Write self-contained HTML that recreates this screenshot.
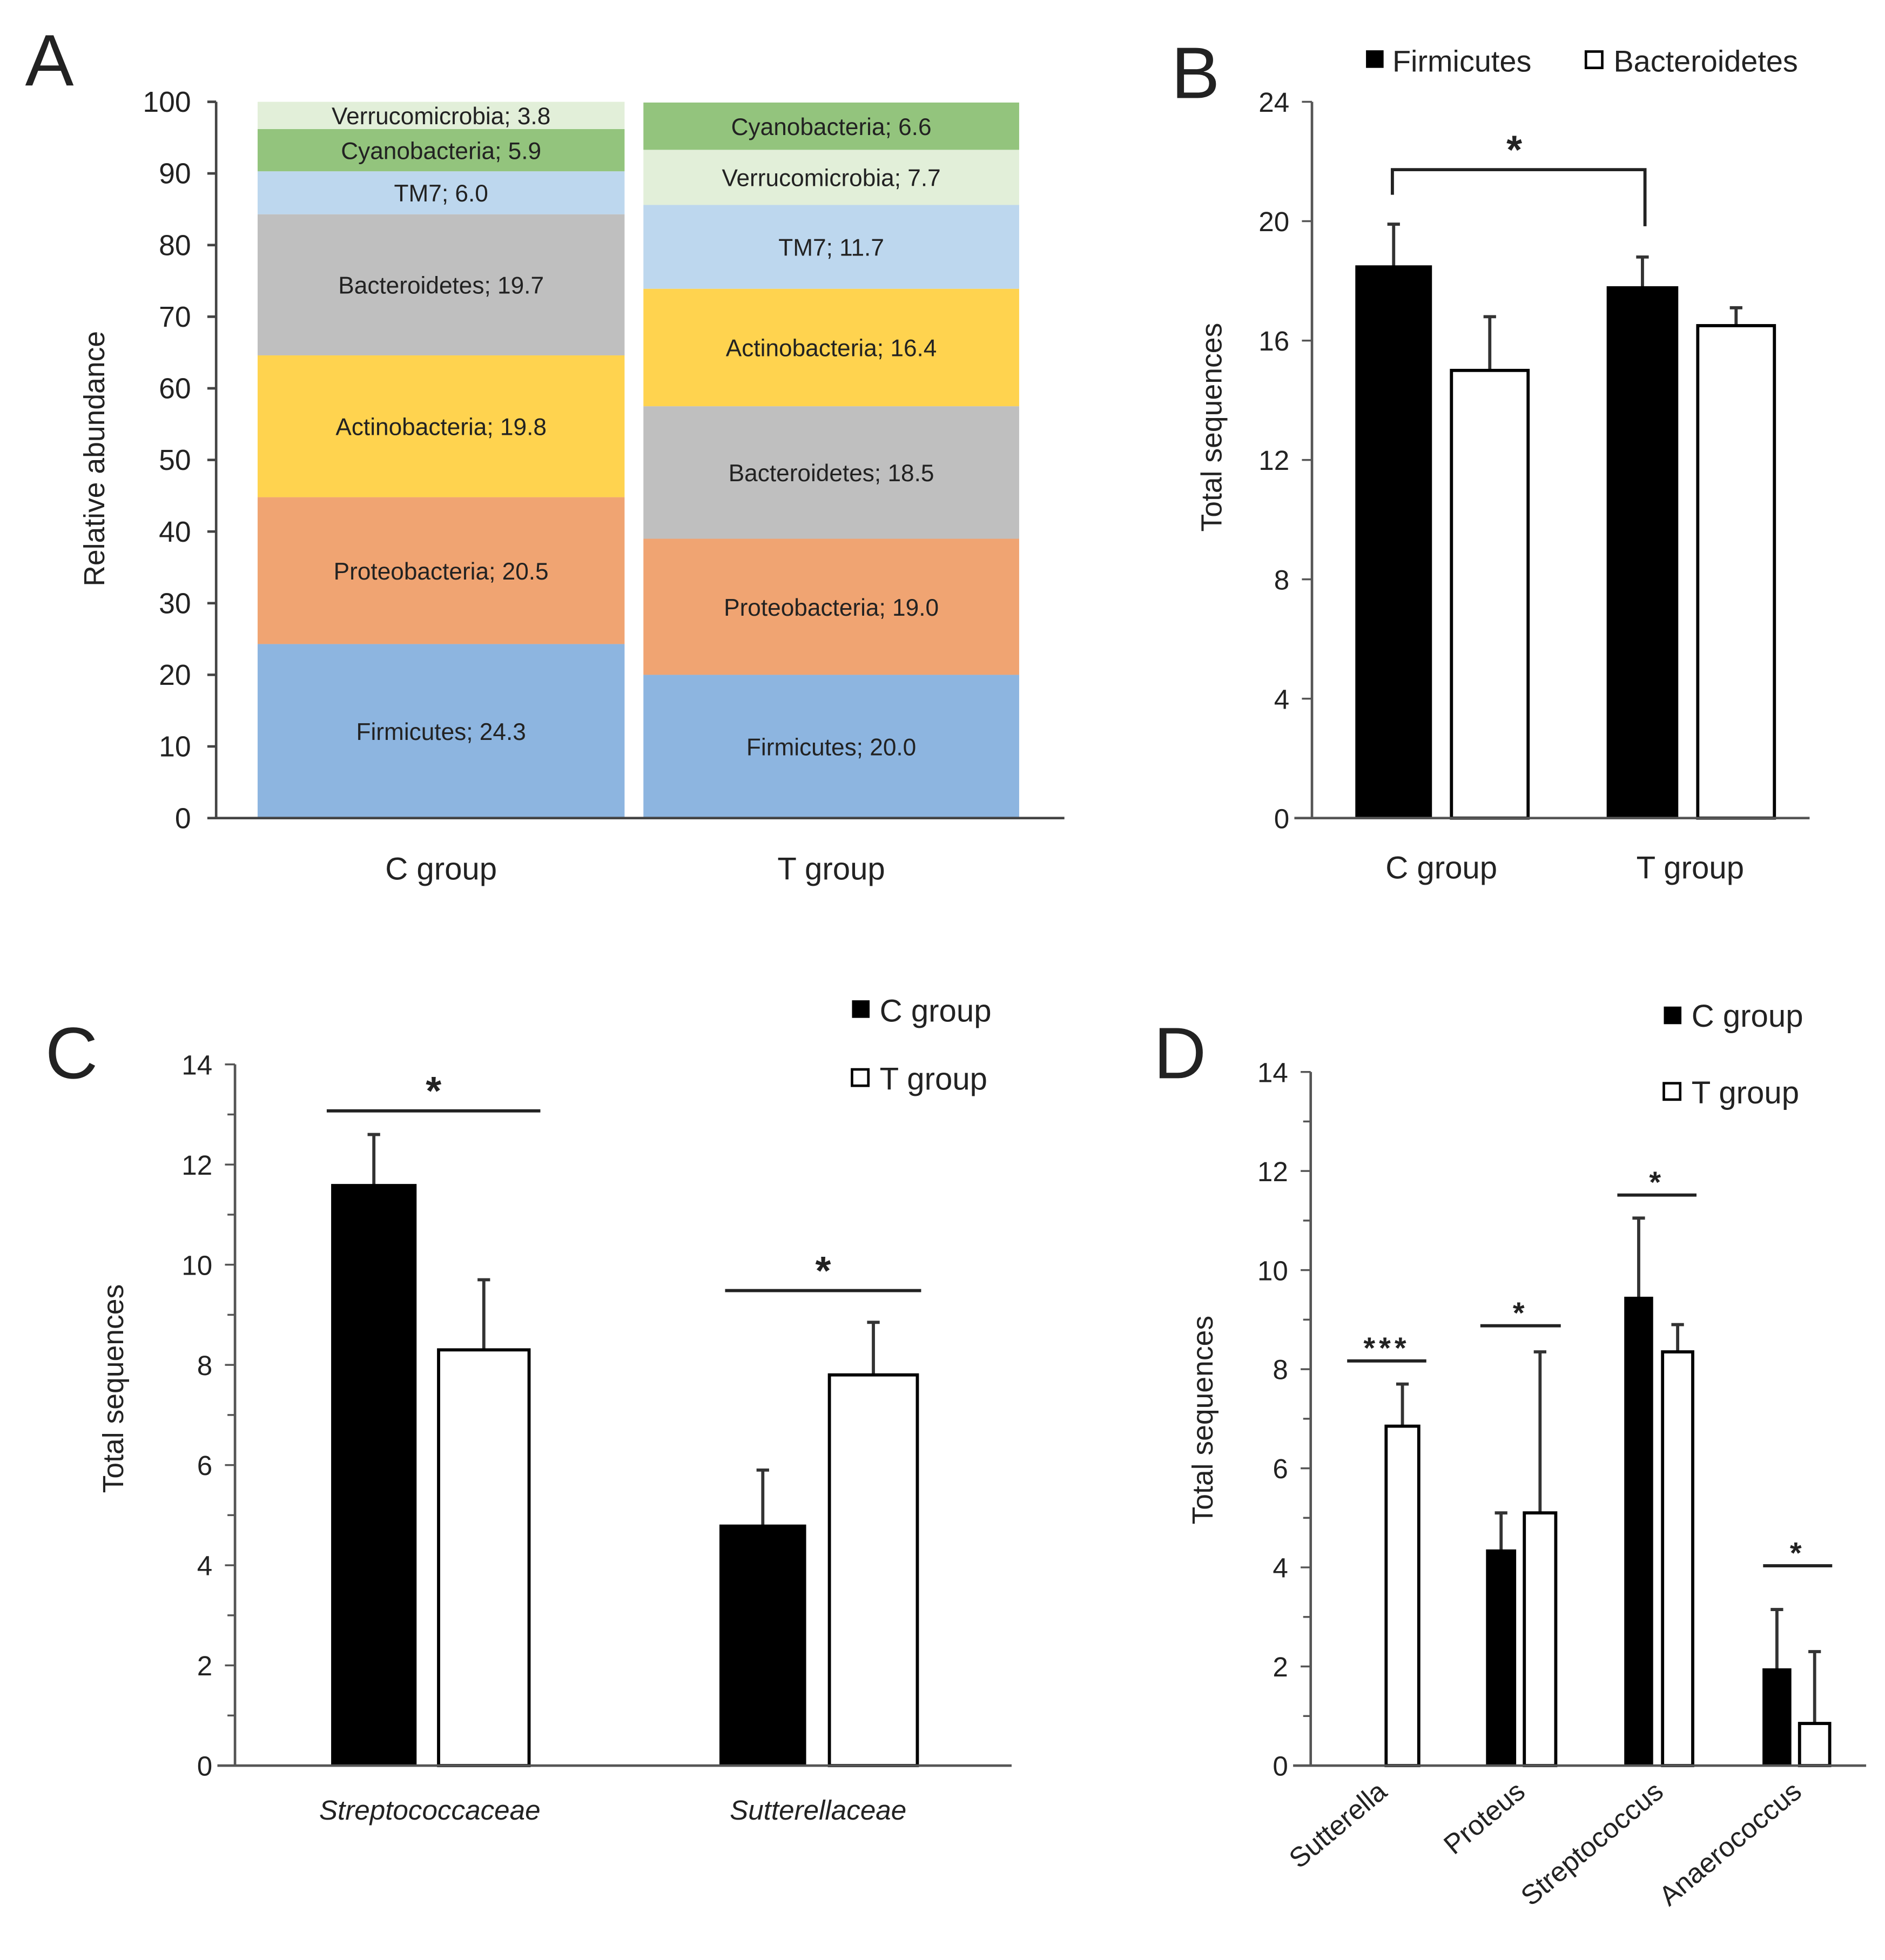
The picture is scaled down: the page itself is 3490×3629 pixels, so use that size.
<!DOCTYPE html>
<html><head><meta charset="utf-8"><style>
html,body{margin:0;padding:0;background:#fff}
svg{display:block}
text{font-family:"Liberation Sans",sans-serif;fill:#222}
</style></head><body>
<svg id="fig" width="3490" height="3629" viewBox="0 0 1500 1559.7" xmlns="http://www.w3.org/2000/svg"></svg>
<script>
// Panel A data
const aGroups = ["C group", "T group"];
const aNamesC = ["Firmicutes","Proteobacteria","Actinobacteria","Bacteroidetes","TM7","Cyanobacteria","Verrucomicrobia"];
const aValsC = [24.3,20.5,19.8,19.7,6.0,5.9,3.8];
const aNamesT = ["Firmicutes","Proteobacteria","Bacteroidetes","Actinobacteria","TM7","Verrucomicrobia","Cyanobacteria"];
const aValsT = [20.0,19.0,18.5,16.4,11.7,7.7,6.6];
const aTicks = [0,10,20,30,40,50,60,70,80,90,100];
// Panel B data
const bGroups = ["C group","T group"];
const bFirm = [18.5,17.8];
const bFirmErr = [1.4,1.0];
const bBact = [15.0,16.5];
const bBactErr = [1.8,0.6];
const bTicks = [0,4,8,12,16,20,24];
// Panel C data
const cCats = ["Streptococcaceae","Sutterellaceae"];
const cC = [11.6,4.8];
const cCErr = [1.0,1.1];
const cT = [8.3,7.8];
const cTErr = [1.4,1.05];
const cTicks = [0,2,4,6,8,10,12,14];
// Panel D data
const dCats = ["Sutterella","Proteus","Streptococcus","Anaerococcus"];
const dC = [0,4.35,9.45,1.95];
const dCErr = [0,0.75,1.6,1.2];
const dT = [6.85,5.1,8.35,0.85];
const dTErr = [0.85,3.25,0.55,1.45];
const dStars = ["***","*","*","*"];

const NS="http://www.w3.org/2000/svg";
const svg=document.getElementById('fig');
function el(tag,attrs,parent){const e=document.createElementNS(NS,tag);for(const k in attrs)e.setAttribute(k,attrs[k]);(parent||svg).appendChild(e);return e;}
function txt(s,attrs,parent){const e=el('text',attrs,parent);e.textContent=s;return e;}
const colors={Firmicutes:"#8db5e0",Proteobacteria:"#f0a472",Actinobacteria:"#ffd34f",Bacteroidetes:"#bfbfbf",TM7:"#bdd7ee",Cyanobacteria:"#93c47d",Verrucomicrobia:"#e2efd9"};

// ===== Panel A =====
(function(){
  const g=el('g',{});
  
  
  const x0=172,y0=651,yTop=81;
  const ys=v=>y0-(v/100)*(y0-yTop);
  const t=txt("A",{x:20,y:68,"font-size":58},g);
  
  const bars=[[205,497,aNamesC,aValsC],[512,811,aNamesT,aValsT]];
  bars.forEach((b,gi)=>{
    let cum=0;
    b[2].forEach((n,i)=>{
      const v=b[3][i];
      const top=Math.max(ys(cum+v),yTop);
      const r=el('rect',{x:b[0],y:top,width:b[1]-b[0],height:ys(cum)-top,fill:colors[n]},g);
      
      
      const lab=txt(n+"; "+v.toFixed(1),{x:(b[0]+b[1])/2,y:(top+ys(cum))/2+7,"text-anchor":"middle","font-size":19},g);
      
      cum+=v;
    });
    const xl=txt(aGroups[gi],{x:(b[0]+b[1])/2,y:700,"text-anchor":"middle","font-size":25},g);
    
  });
  const ax=el('path',{d:`M${x0} ${yTop}V${y0}H847`,stroke:"#444","stroke-width":2,fill:"none"},g);
  
  aTicks.forEach(v=>{
    el('line',{x1:x0-7,x2:x0,y1:ys(v),y2:ys(v),stroke:"#444","stroke-width":2},g);
    const tl=txt(v,{x:152,y:ys(v)+8,"text-anchor":"end","font-size":23},g);
    
  });
  const yt=txt("Relative abundance",{x:0,y:0,"text-anchor":"middle","font-size":23,transform:"translate(83,365) rotate(-90)"},g);
  
})();

// generic bar chart helper
function barPanel(o){
  const g=el('g',{});
  
  
  const ys=v=>o.y0-(v/o.max)*(o.y0-o.yTop);
  const L=txt(o.letter,{x:o.lx,y:o.ly,"font-size":58},g);
  
  o.ticks.forEach(v=>{
    el('line',{x1:o.x0-8,x2:o.x0,y1:ys(v),y2:ys(v),stroke:"#555","stroke-width":1.5},g);
    const tl=txt(v,{x:o.x0-18,y:ys(v)+8,"text-anchor":"end","font-size":22},g);
    
  });
  if(o.minor) o.minor.forEach(v=>{el('line',{x1:o.x0-6,x2:o.x0,y1:ys(v),y2:ys(v),stroke:"#555","stroke-width":1.5},g);});
  const yt=txt("Total sequences",{x:0,y:0,"text-anchor":"middle","font-size":23,transform:`translate(${o.ytx},${o.yty}) rotate(-90)`},g);
  
  o.series.forEach((s,si)=>{
    s.vals.forEach((v,i)=>{
      const xl=o.pos[i][si][0],xr=o.pos[i][si][1];
      if(v>0){
        const er=el('path',{d:`M${(xl+xr)/2} ${ys(v)}V${ys(v+s.err[i])}M${(xl+xr)/2-5} ${ys(v+s.err[i])}H${(xl+xr)/2+5}`,stroke:"#333","stroke-width":2.5,fill:"none"},g);
        
        const r=el('rect',{x:xl,y:ys(v),width:xr-xl,height:o.y0-ys(v),fill:s.fill,stroke:"#000","stroke-width":s.fill==="#fff"?2.5:1},g);
        
      }
    });
  });
  const ax=el('path',{d:`M${o.x0} ${o.yTop}V${o.y0}H${o.xEnd}M${o.x0-14} ${o.y0}H${o.x0}`,stroke:"#555","stroke-width":2,fill:"none"},g);
  
  return {g,ys};
}

// ===== Panel B =====
(function(){
  const p=barPanel({name:'panel-b',letter:'B',lx:932,ly:78,x0:1044,y0:651,yTop:81,max:24,xEnd:1440,ticks:bTicks,ytx:972,yty:340,
    series:[{key:'firmicutes',vals:bFirm,err:bFirmErr,fill:"#000"},{key:'bacteroidetes',vals:bBact,err:bBactErr,fill:"#fff"}],
    pos:[[[1079,1139],[1155,1216]],[[1279,1335],[1351,1412]]]});
  const g=p.g;
  [["C group",1147],["T group",1345]].forEach(a=>{const t=txt(a[0],{x:a[1],y:699,"text-anchor":"middle","font-size":25},g);});
  const br=el('path',{d:"M1108 155V135H1309V180",stroke:"#222","stroke-width":2.5,fill:"none"},g);
  
  const st=txt("*",{x:1205,y:130,"text-anchor":"middle","font-size":32,"font-weight":"bold"},g);
  
  const l1=el('rect',{x:1087,y:40,width:14,height:14,fill:"#000"},g);
  const t1=txt("Firmicutes",{x:1108,y:57,"font-size":24},g);
  const l2=el('rect',{x:1262,y:41,width:13,height:13,fill:"#fff",stroke:"#000","stroke-width":2},g);
  const t2=txt("Bacteroidetes",{x:1284,y:57,"font-size":24},g);
})();

// ===== Panel C =====
(function(){
  const p=barPanel({name:'panel-c',letter:'C',lx:36,ly:858,x0:187,y0:1405,yTop:847,max:14,xEnd:805,ticks:cTicks,minor:[1,3,5,7,9,11,13],ytx:98,yty:1105,
    series:[{key:'c-group',vals:cC,err:cCErr,fill:"#000"},{key:'t-group',vals:cT,err:cTErr,fill:"#fff"}],
    pos:[[[264,331],[349,421]],[[573,641],[660,730]]]});
  const g=p.g;
  [[cCats[0],342],[cCats[1],651]].forEach(a=>{const t=txt(a[0],{x:a[1],y:1448,"text-anchor":"middle","font-size":22,"font-style":"italic"},g);});
  [[260,430,884],[577,733,1027]].forEach(s=>{
    const l=el('line',{x1:s[0],x2:s[1],y1:s[2],y2:s[2],stroke:"#222","stroke-width":2.5},g);
    const t=txt("*",{x:(s[0]+s[1])/2,y:s[2]-5,"text-anchor":"middle","font-size":32,"font-weight":"bold"},g);
  });
  const l1=el('rect',{x:678,y:796,width:14,height:14,fill:"#000"},g);
  const t1=txt("C group",{x:700,y:813,"font-size":25},g);
  const l2=el('rect',{x:678,y:851,width:13,height:13,fill:"#fff",stroke:"#000","stroke-width":2},g);
  const t2=txt("T group",{x:700,y:867,"font-size":25},g);
})();

// ===== Panel D =====
(function(){
  const p=barPanel({name:'panel-d',letter:'D',lx:918,ly:858,x0:1043,y0:1405,yTop:853,max:14,xEnd:1485,ticks:cTicks,minor:[1,3,5,7,9,11,13],ytx:965,yty:1130,
    series:[{key:'c-group',vals:dC,err:dCErr,fill:"#000"},{key:'t-group',vals:dT,err:dTErr,fill:"#fff"}],
    pos:[[[1073,1097],[1103,1129]],[[1183,1206],[1213,1238]],[[1293,1315],[1323,1347]],[[1403,1425],[1432,1456]]]});
  const g=p.g;
  const ends=[1105,1215,1325,1435];
  dCats.forEach((c,i)=>{const t=txt(c,{x:0,y:0,"text-anchor":"end","font-size":22,transform:`translate(${ends[i]},1428) rotate(-40)`},g);});
  [[1072,1135,1083],[1178,1242,1055],[1287,1350,951],[1403,1458,1246]].forEach((s,i)=>{
    const l=el('line',{x1:s[0],x2:s[1],y1:s[2],y2:s[2],stroke:"#222","stroke-width":2.5},g);
    const t=txt(dStars[i],{x:(s[0]+s[1])/2,y:s[2]-2,"text-anchor":"middle","font-size":24,"font-weight":"bold","letter-spacing":3},g);
  });
  const l1=el('rect',{x:1324,y:801,width:14,height:14,fill:"#000"},g);
  const t1=txt("C group",{x:1346,y:817,"font-size":25},g);
  const l2=el('rect',{x:1324,y:862,width:13,height:13,fill:"#fff",stroke:"#000","stroke-width":2},g);
  const t2=txt("T group",{x:1346,y:878,"font-size":25},g);
})();
</script>
</body></html>
